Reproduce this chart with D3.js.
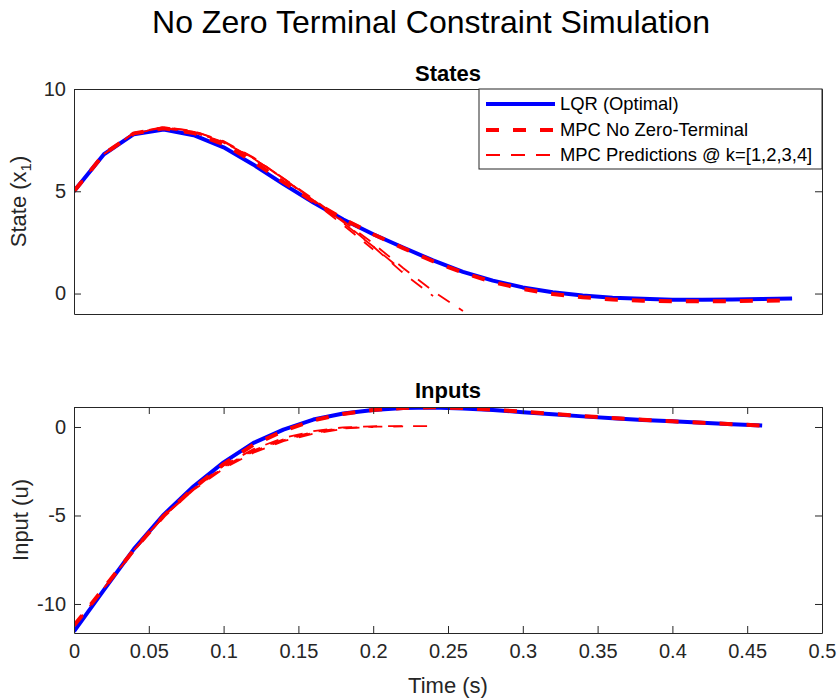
<!DOCTYPE html>
<html>
<head>
<meta charset="utf-8">
<script src="https://cdn.jsdelivr.net/npm/d3@7"></script>
<style>
  body { margin: 0; background: #fff; }
  text { font-family: "Liberation Sans", Arial, Helvetica, sans-serif; }
</style>
</head>
<body>
<svg id="chart" width="839" height="698"></svg>
<script>
// sample times (s)
const timeX = [0, 0.02, 0.04, 0.06, 0.08, 0.1, 0.12, 0.14, 0.16, 0.18, 0.2, 0.22, 0.24,
               0.26, 0.28, 0.3, 0.32, 0.34, 0.36, 0.38, 0.4, 0.42, 0.44, 0.46, 0.48];
const timeU = [0, 0.02, 0.04, 0.06, 0.08, 0.1, 0.12, 0.14, 0.16, 0.18, 0.2, 0.22, 0.24,
               0.26, 0.28, 0.3, 0.32, 0.34, 0.36, 0.38, 0.4, 0.42, 0.44, 0.46];

// state x1
const lqrX = [5.0, 6.81, 7.79, 8.02, 7.74, 7.15, 6.3, 5.35, 4.45, 3.62, 2.9, 2.25, 1.62,
              1.06, 0.63, 0.3, 0.06, -0.1, -0.2, -0.26, -0.3, -0.3, -0.29, -0.27, -0.24];
const mpcX = [5.0, 6.82, 7.83, 8.08, 7.85, 7.3, 6.45, 5.45, 4.5, 3.65, 2.9, 2.22, 1.58,
              1.02, 0.56, 0.22, -0.02, -0.18, -0.29, -0.35, -0.38, -0.38, -0.37, -0.35, -0.33];

// input u
const lqrU = [-11.55, -9.2, -6.9, -4.95, -3.35, -2.0, -0.9, -0.15, 0.42, 0.76, 0.96, 1.07,
              1.1, 1.05, 0.96, 0.84, 0.72, 0.6, 0.5, 0.4, 0.32, 0.24, 0.16, 0.08];
const mpcU = [-11.22, -9.1, -6.95, -5.02, -3.45, -2.1, -1.0, -0.22, 0.38, 0.74, 0.96, 1.08,
              1.12, 1.07, 0.98, 0.86, 0.74, 0.62, 0.51, 0.41, 0.32, 0.24, 0.16, 0.08];

// MPC predictions made at k = 1,2,3,4 (start index into timeX / timeU)
const predK = [1, 2, 3, 4];
const predX = [
  [5.0, 6.82, 7.86, 8.14, 7.95, 7.45, 6.65, 5.62, 4.5, 3.35, 2.15],
  [6.82, 7.85, 8.12, 7.94, 7.42, 6.62, 5.62, 4.55, 3.45, 2.3, 1.1],
  [7.83, 8.1, 7.9, 7.4, 6.6, 5.62, 4.58, 3.5, 2.3, 1.0, -0.12],
  [8.08, 7.88, 7.38, 6.6, 5.64, 4.62, 3.55, 2.45, 1.25, 0.12, -0.85]
];
const predU = [
  [-11.22, -9.12, -7.0, -5.05, -3.55, -2.35, -1.45, -0.8, -0.38, -0.1],
  [-9.1, -6.97, -5.03, -3.5, -2.3, -1.38, -0.75, -0.33, -0.08, 0.0],
  [-6.95, -5.02, -3.48, -2.25, -1.32, -0.7, -0.28, -0.05, 0.02, 0.03],
  [-5.02, -3.45, -2.18, -1.25, -0.62, -0.23, -0.02, 0.04, 0.05, 0.05]
];

const xTicks = [0, 0.05, 0.1, 0.15, 0.2, 0.25, 0.3, 0.35, 0.4, 0.45, 0.5];
const stateTicks = [0, 5, 10];
const inputTicks = [-10, -5, 0];
const legendLabels = ["LQR (Optimal)", "MPC No Zero-Terminal", "MPC Predictions @ k=[1,2,3,4]"];

const svg = d3.select("#chart");
const axisColor = "#262626";
const left = 74, right = 822;
const top1 = 89, bot1 = 314, top2 = 407, bot2 = 633;

const x = d3.scaleLinear().domain([0, 0.5]).range([left, right]);
const yS = d3.scaleLinear().domain([-1, 10]).range([bot1, top1]);
const yU = d3.scaleLinear().domain([-11.64, 1.13]).range([bot2, top2]);

const fmt = d => String(+d.toFixed(2));

// clip areas
const defs = svg.append("defs");
defs.append("clipPath").attr("id", "clipS").append("rect")
  .attr("x", left).attr("y", top1).attr("width", right - left).attr("height", bot1 - top1);
defs.append("clipPath").attr("id", "clipU").append("rect")
  .attr("x", left).attr("y", top2).attr("width", right - left).attr("height", bot2 - top2);

function drawSeries(g, y, tX, lqr, mpc, preds, clip) {
  const line = d3.line().x(d => x(d[0])).y(d => y(d[1]));
  const gl = g.append("g").attr("clip-path", `url(#${clip})`);
  gl.append("path").datum(tX.map((t, i) => [t, lqr[i]]))
    .attr("d", line).attr("fill", "none").attr("stroke", "#0000ff")
    .attr("stroke-width", 4).attr("stroke-linejoin", "round");
  gl.append("path").datum(tX.map((t, i) => [t, mpc[i]]))
    .attr("d", line).attr("fill", "none").attr("stroke", "#ff0000")
    .attr("stroke-width", 4).attr("stroke-dasharray", "13,14").attr("stroke-linejoin", "round");
  preds.forEach((p, j) => {
    const s = predK[j] - 1;
    gl.append("path").datum(p.map((v, i) => [tX[s + i], v]))
      .attr("d", line).attr("fill", "none").attr("stroke", "#ff0000")
      .attr("stroke-width", 1.8).attr("stroke-dasharray", "14,11");
  });
}

function drawAxes(g, y, yTicks, top, bot, showX) {
  const styleAxis = sel => {
    sel.selectAll("path, line").attr("stroke", axisColor);
    sel.selectAll("text").attr("fill", axisColor).style("font-size", "20px")
      .style("font-family", '"Liberation Sans", Arial, sans-serif');
  };
  g.append("g").attr("transform", `translate(${left},0)`)
    .call(d3.axisLeft(y).tickValues(yTicks).tickFormat(d => String(d))
      .tickSizeInner(-7).tickSizeOuter(0).tickPadding(8))
    .call(styleAxis);
  g.append("g").attr("transform", `translate(${right},0)`)
    .call(d3.axisRight(y).tickValues(yTicks).tickFormat("")
      .tickSizeInner(-7).tickSizeOuter(0))
    .call(styleAxis);
  g.append("g").attr("transform", `translate(0,${bot})`)
    .call(d3.axisBottom(x).tickValues(showX ? xTicks : []).tickFormat(fmt)
      .tickSizeInner(-7).tickSizeOuter(0).tickPadding(11))
    .call(styleAxis);
  g.append("g").attr("transform", `translate(0,${top})`)
    .call(d3.axisTop(x).tickValues(showX ? xTicks : []).tickFormat("")
      .tickSizeInner(-7).tickSizeOuter(0))
    .call(styleAxis);
}

// states
const gS = svg.append("g");
drawSeries(gS, yS, timeX, lqrX, mpcX, predX, "clipS");
drawAxes(gS, yS, stateTicks, top1, bot1, false);

// inputs
const gU = svg.append("g");
drawSeries(gU, yU, timeU, lqrU, mpcU, predU, "clipU");
drawAxes(gU, yU, inputTicks, top2, bot2, true);

// titles and labels
svg.append("text").attr("x", 431).attr("y", 33).attr("text-anchor", "middle")
  .style("font-size", "32px").attr("fill", "#000").text("No Zero Terminal Constraint Simulation");
svg.append("text").attr("x", (left + right) / 2).attr("y", 81).attr("text-anchor", "middle")
  .style("font-size", "22px").style("font-weight", "bold").text("States");
svg.append("text").attr("x", (left + right) / 2).attr("y", 398).attr("text-anchor", "middle")
  .style("font-size", "22px").style("font-weight", "bold").text("Inputs");

const ls = svg.append("text")
  .attr("transform", `translate(26,${(top1 + bot1) / 2}) rotate(-90)`)
  .attr("text-anchor", "middle").style("font-size", "22px").attr("fill", axisColor);
ls.append("tspan").text("State (x");
ls.append("tspan").attr("dy", 5).style("font-size", "15px").text("1");
ls.append("tspan").attr("dy", -5).text(")");

svg.append("text")
  .attr("transform", `translate(28,${(top2 + bot2) / 2}) rotate(-90)`)
  .attr("text-anchor", "middle").style("font-size", "22px").attr("fill", axisColor)
  .text("Input (u)");
svg.append("text").attr("x", (left + right) / 2).attr("y", 693).attr("text-anchor", "middle")
  .style("font-size", "22px").attr("fill", axisColor).text("Time (s)");

// legend
const leg = svg.append("g");
leg.append("rect").attr("x", 479).attr("y", 89).attr("width", right - 479).attr("height", 80)
  .attr("fill", "#fff").attr("stroke", axisColor);
const legStyles = [
  { w: 4, dash: null },
  { w: 4, dash: "13,14" },
  { w: 1.8, dash: "14,11" }
];
const legColors = ["#0000ff", "#ff0000", "#ff0000"];
const rowY = [104, 130, 155];
legendLabels.forEach((lab, i) => {
  leg.append("line").attr("x1", 486).attr("x2", 555).attr("y1", rowY[i]).attr("y2", rowY[i])
    .attr("stroke", legColors[i]).attr("stroke-width", legStyles[i].w)
    .attr("stroke-dasharray", legStyles[i].dash);
  leg.append("text").attr("x", 560).attr("y", rowY[i]).attr("dy", "0.35em")
    .style("font-size", "18.4px").attr("fill", "#000").text(lab);
});
</script>
</body>
</html>
